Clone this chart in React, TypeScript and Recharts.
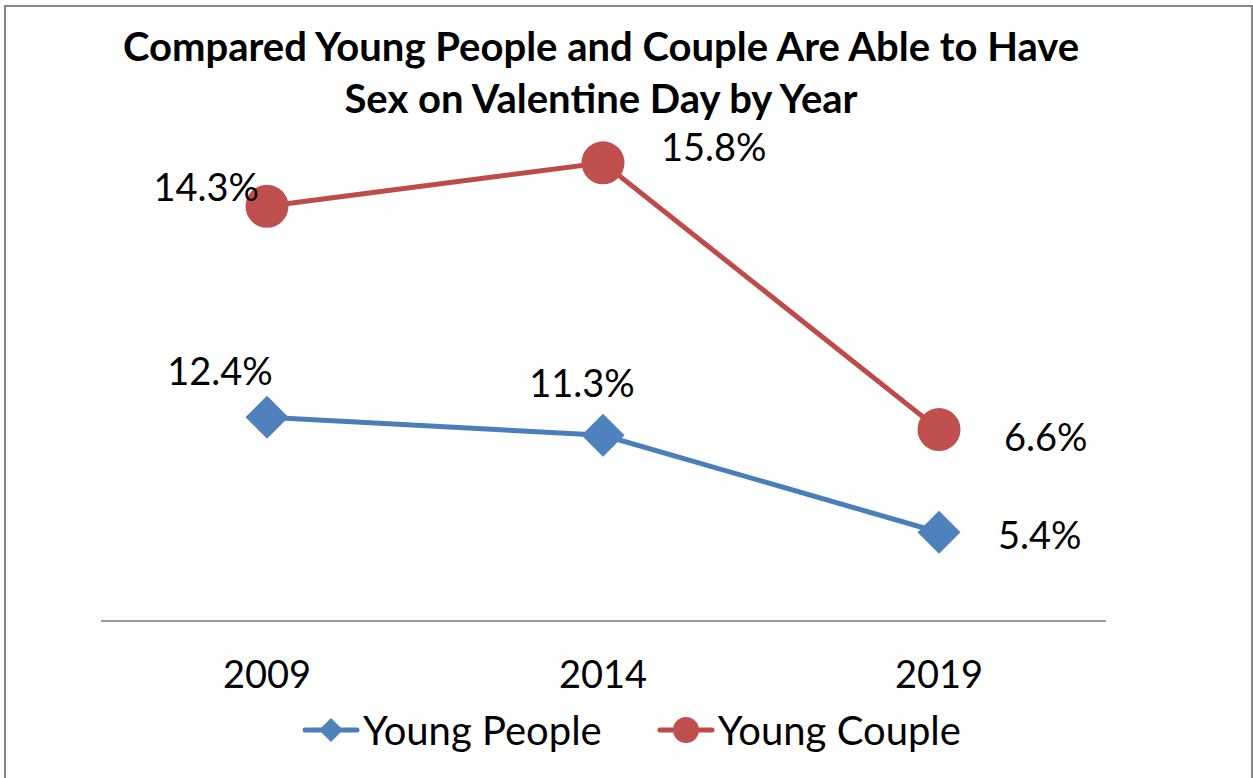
import { Legend, Line, LineChart, XAxis, YAxis, LabelList } from "recharts";

const years = ["2009", "2014", "2019"];
const youngPeople = [12.4, 11.3, 5.4];
const youngCouple = [14.3, 15.8, 6.6];

const data = years.map((year, i) => ({
  year,
  people: youngPeople[i],
  couple: youngCouple[i],
}));

const BLUE = "#4A7EBB";
const BLUE_MARK = "#4F81BD";
const RED = "#BE4B48";
const RED_MARK = "#C0504D";
const FONT = "Lato, 'Open Sans', sans-serif";

// label placement relative to each point: [dx, dy (baseline), anchor]
const peopleLabelPos: Array<[number, number, string]> = [
  [-47, -32, "middle"],
  [-21, -38, "middle"],
  [59, 17, "start"],
];
const coupleLabelPos: Array<[number, number, string]> = [
  [-8, -5, "end"],
  [58, -2, "start"],
  [65, 21, "start"],
];

const makeLabel =
  (pos: Array<[number, number, string]>) =>
  (props: any) => {
    const { x, y, value, index } = props;
    const [dx, dy, anchor] = pos[index] ?? [0, -20, "middle"];
    return (
      <text
        key={`l${index}`}
        x={x + dx}
        y={y + dy}
        textAnchor={anchor as any}
        fontSize={38}
        fontFamily={FONT}
        fill="#000"
      >
        {value.toFixed(1)}%
      </text>
    );
  };

const Diamond = (props: any) => {
  const { cx, cy, index } = props;
  const r = 21.5;
  if (cx == null || cy == null) return <g key={`d${index}`} />;
  return (
    <polygon
      key={`d${index}`}
      points={`${cx},${cy - r} ${cx + r},${cy} ${cx},${cy + r} ${cx - r},${cy}`}
      fill={BLUE_MARK}
    />
  );
};

const LegendContent = () => (
  <div
    style={{
      display: "flex",
      justifyContent: "center",
      alignItems: "center",
      gap: 55,
      fontFamily: FONT,
      fontSize: 40,
      color: "#000",
      height: 60,
      paddingLeft: 10,
    }}
  >
    <div style={{ display: "flex", alignItems: "center" }}>
      <svg width={58} height={30} style={{ marginRight: 3 }}>
        <line x1={3} y1={15} x2={55} y2={15} stroke={BLUE} strokeWidth={5} strokeLinecap="round" />
        <polygon points="29,3 41,15 29,27 17,15" fill={BLUE_MARK} />
      </svg>
      <span>Young People</span>
    </div>
    <div style={{ display: "flex", alignItems: "center" }}>
      <svg width={58} height={30} style={{ marginRight: 3 }}>
        <line x1={3} y1={15} x2={55} y2={15} stroke={RED} strokeWidth={5} strokeLinecap="round" />
        <circle cx={29} cy={15} r={13} fill={RED_MARK} />
      </svg>
      <span>Young Couple</span>
    </div>
  </div>
);

export default function App() {
  return (
    <div
      style={{
        position: "absolute",
        left: 0,
        top: 0,
        width: 1253,
        height: 778,
        overflow: "hidden",
        background: "#fff",
      }}
    >
      <div
        style={{
          position: "absolute",
          left: 4,
          top: 5,
          width: 1249,
          height: 800,
          border: "2px solid #878787",
          boxSizing: "border-box",
        }}
      />
      <div
        style={{
          position: "absolute",
          left: 0,
          top: 20,
          width: 1202,
          textAlign: "center",
          fontFamily: FONT,
          fontWeight: 700,
          fontSize: 40,
          lineHeight: "52px",
          color: "#000",
        }}
      >
        Compared Young People and Couple Are Able to Have
        <br />
        Sex on Valentine Day by Year
      </div>
      <LineChart
        width={1253}
        height={778}
        data={data}
        margin={{ top: 128, right: 147, bottom: 127, left: 101 }}
        style={{ position: "absolute", left: 0, top: 0 }}
      >
        <XAxis
          dataKey="year"
          height={30}
          padding={{ left: 166, right: 167 }}
          axisLine={{ stroke: "#9A9A9A", strokeWidth: 2 }}
          tickLine={false}
          tickSize={0}
          tickMargin={40}
          tick={{ fontSize: 38, fontFamily: FONT, fill: "#000" }}
        />
        <YAxis yAxisId="left" domain={[0, 30]} hide />
        <YAxis yAxisId="right" orientation="right" domain={[0, 17]} hide />
        <Legend
          layout="horizontal"
          verticalAlign="middle"
          align="center"
          wrapperStyle={{ top: 700, left: 0, width: 1253, height: 60 }}
          content={LegendContent}
        />
        <Line
          yAxisId="left"
          dataKey="people"
          name="Young People"
          stroke={BLUE}
          strokeWidth={5}
          dot={Diamond}
          activeDot={false}
          isAnimationActive={false}
        >
          <LabelList dataKey="people" content={makeLabel(peopleLabelPos)} />
        </Line>
        <Line
          yAxisId="right"
          dataKey="couple"
          name="Young Couple"
          stroke={RED}
          strokeWidth={5}
          dot={{ r: 21.5, fill: RED_MARK, stroke: "none", strokeWidth: 0 }}
          activeDot={false}
          isAnimationActive={false}
        >
          <LabelList dataKey="couple" content={makeLabel(coupleLabelPos)} />
        </Line>
      </LineChart>
    </div>
  );
}
